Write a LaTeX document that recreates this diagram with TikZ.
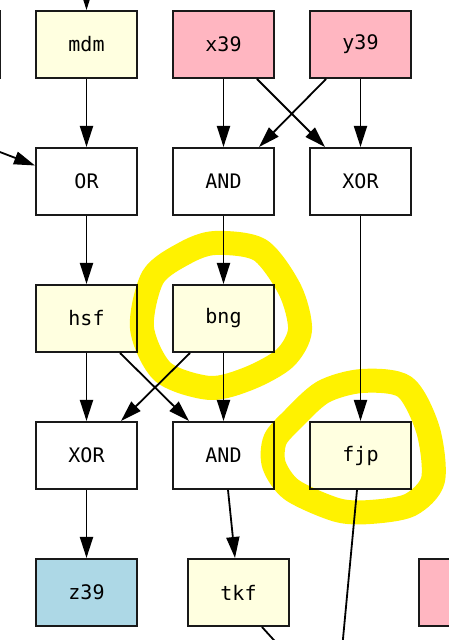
\documentclass[tikz,border=0pt]{standalone}
\usepackage{fontspec}
\setmonofont{DejaVu Sans Mono}
\usetikzlibrary{positioning, arrows.meta}
\definecolor{lightyellow}{HTML}{FFFFE0}
\definecolor{lightpink}{HTML}{FFB6C1}
\definecolor{lightblue}{HTML}{ADD8E6}
\tikzstyle{gatebox} = [rectangle, minimum width=101pt, minimum height=67pt, inner sep=0pt, line width=2pt, draw=black!90, fill=white, font=\ttfamily\fontsize{20}{22}\selectfont]
\tikzstyle{wirebox} = [gatebox, fill=lightyellow]
\tikzstyle{inbox} = [gatebox, fill=lightpink]
\tikzstyle{outbox} = [gatebox, fill=lightblue]
\tikzstyle{arrow} = [line width=1.8pt, -{Triangle[length=21pt,width=13pt]}]
\tikzstyle{plain} = [line width=1.8pt]
\tikzstyle{marker} = [line width=24pt, yellow, line cap=round, line join=round, blend mode=multiply]

\begin{document}
\begin{tikzpicture}[x=1pt, y=1pt, node distance={68pt and 34pt}]
    \useasboundingbox (0,0) rectangle (448,640);

    \node (mdm) [wirebox] at (86.5,595.5) {mdm};
    \node (prev) [outbox, left=of mdm] {};
    \node (x39) [inbox, right=of mdm] {x39};
    \node (y39) [inbox, right=of x39] {y39};
    \node (or) [gatebox, below=of mdm] {OR};
    \node (and1) [gatebox, below=of x39] {AND};
    \node (xor1) [gatebox, below=of y39] {XOR};
    \node (hsf) [wirebox, below=of or] {hsf};
    \node (bng) [wirebox, below=of and1] {bng};
    \node (xor2) [gatebox, below=of hsf] {XOR};
    \node (and2) [gatebox, below=of bng] {AND};
    \node (fjp) [wirebox, right=of and2] {fjp};
    \node (z39) [outbox, below=of xor2] {z39};
    \node (tkf) [wirebox, right=49pt of z39] {tkf};
    \node (x40) [inbox, right=128pt of tkf] {};

    \coordinate (mdmin) at (86.5,680);
    \coordinate (orin) at (-35,501.4);
    \coordinate (fjpout) at (341,-20);
    \coordinate (tkfout) at (292,-20);

    \draw [arrow] (mdmin) -- (mdm);
    \draw [arrow] (orin) -- ([yshift=16pt]or.west);
    \draw [arrow] (mdm) -- (or);
    \draw [arrow] (x39) -- (and1);
    \draw [arrow] ([xshift=33.5pt]x39.south) -- ([xshift=-35.5pt]xor1.north);
    \draw [arrow] ([xshift=-34.5pt]y39.south) -- ([xshift=35.5pt]and1.north);
    \draw [arrow] (y39) -- (xor1);
    \draw [arrow] (or) -- (hsf);
    \draw [arrow] (and1) -- (bng);
    \draw [arrow] (xor1) -- (fjp);
    \draw [arrow] (hsf) -- (xor2);
    \draw [arrow] ([xshift=33.5pt]hsf.south) -- ([xshift=-34.5pt]and2.north);
    \draw [arrow] ([xshift=-33.5pt]bng.south) -- ([xshift=34.5pt]xor2.north);
    \draw [arrow] (bng) -- (and2);
    \draw [arrow] (xor2) -- (z39);
    \draw [arrow] ([xshift=4.5pt]and2.south) -- ([xshift=-3.5pt]tkf.north);
    \draw [plain] ([xshift=-3.5pt]fjp.south) -- (fjpout);
    \draw [plain] ([xshift=23.5pt]tkf.south) -- (tkfout);

    % highlighter rings
    \draw [marker] plot [smooth cycle] coordinates {(215,397) (260,390) (290,350) (300,310) (285,282) (250,262) (210,252) (163,268) (142,312) (153,363) (185,387)};
    \draw [marker] plot [smooth cycle] coordinates {(323,248) (362,259) (405,253) (428,210) (433,160) (410,135) (370,128) (337,130) (292,150) (274,175) (275,200) (292,220)};
\end{tikzpicture}
\end{document}
